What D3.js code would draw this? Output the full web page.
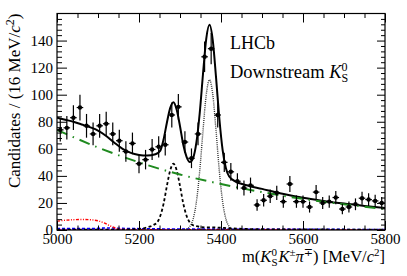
<!DOCTYPE html>
<html>
<head>
<meta charset="utf-8">
<script src="https://cdn.jsdelivr.net/npm/d3@7"></script>
<style>
  body { margin: 0; background: #fff; }
  text { font-family: "Liberation Serif", "DejaVu Serif", serif; fill: #000; }
</style>
</head>
<body>
<svg id="chart" width="407" height="276"></svg>
<script>
// binning of the mass histogram
const massRange = [5000, 5800];
const binWidth = 16;

// candidates per 16 MeV bin
const counts = [
  74, 75.5, 83, 90.5, 77, 71, 77, 78.5, 71, 66,
  58, 64, 49, 52, 59.5, 61.5, 63, 85, 91, 65,
  53, 71, 128, 134, 85, 50, 43, 36, 31, 33,
  18.5, 22, 25, 27.5, 21, 34, 21, 21, 17, 28,
  20, 21, 24, 15.5, 17, 19, 23.5, 22.5, 21.5, 20
];

// fit curves, sampled as [mass, value]
const totalFit = [
  [5000, 83], [5020, 81.5], [5040, 80], [5060, 78], [5080, 76], [5100, 73.5],
  [5120, 69.5], [5140, 64.5], [5160, 60], [5180, 57], [5200, 55.5], [5220, 55],
  [5240, 56], [5252, 58.7], [5260, 67], [5268, 79.3], [5276, 90.1], [5284, 94.5],
  [5292, 88.8], [5300, 76.7], [5308, 63], [5316, 54.1], [5324, 50.3], [5332, 53.2],
  [5340, 64.7], [5348, 86.1], [5356, 114.9], [5364, 141.3], [5372, 151.6], [5380, 140],
  [5388, 112.4], [5396, 82.2], [5404, 59], [5412, 45.6], [5420, 39.5], [5436, 35.8],
  [5460, 33.3], [5500, 30.4], [5550, 26.8], [5600, 23.8], [5650, 21.5], [5700, 19.5],
  [5750, 17.8], [5800, 16.2]
];
const combinatorial = [
  [5000, 74], [5100, 61], [5200, 50], [5300, 41], [5400, 34],
  [5500, 28], [5600, 23], [5700, 19], [5800, 15.5]
];
const bsSignal = [
  [5280, 0], [5300, 0], [5308, 0.15], [5316, 0.7], [5324, 2.6], [5332, 8.1],
  [5340, 20.8], [5348, 43.3], [5356, 73], [5364, 100], [5372, 111], [5380, 100],
  [5388, 73], [5396, 43.3], [5404, 20.8], [5412, 8.1], [5420, 2.6], [5428, 0.7],
  [5436, 0.15], [5444, 0], [5470, 0]
];
const bdSignal = [
  [5000, 0.3], [5150, 0.3], [5200, 0.8], [5220, 2], [5228, 2.7], [5236, 3.8],
  [5244, 5.5], [5252, 10.5], [5260, 19.5], [5268, 32.5], [5276, 44], [5284, 49],
  [5292, 44], [5300, 32.5], [5308, 19.5], [5316, 10.5], [5324, 5.5], [5332, 3.5],
  [5340, 2.8], [5360, 2], [5390, 1.8], [5420, 1.3], [5460, 0.8], [5520, 0.5],
  [5600, 0.4], [5800, 0.3]
];
const partReco = [
  [5000, 6.5], [5020, 7.2], [5040, 7.6], [5060, 7.8], [5080, 7.6], [5100, 6.8],
  [5115, 5.2], [5130, 3], [5145, 1.2], [5160, 0.4], [5200, 0.2], [5800, 0.1]
];
const crossFeed = [
  [5000, 1], [5080, 1], [5120, 1.5], [5160, 1.2], [5250, 0.8], [5400, 0.6], [5800, 0.4]
];
const otherBkg = [[5000, 0.5], [5400, 0.4], [5800, 0.3]];

const yMax = 160;
const yMajor = [0, 20, 40, 60, 80, 100, 120, 140];
const xMajor = [5000, 5200, 5400, 5600, 5800];

const svg = d3.select("#chart");
const margin = { top: 13.5, right: 22, bottom: 46, left: 57 };
const width = 407 - margin.left - margin.right;
const height = 276 - margin.top - margin.bottom;

const g = svg.append("g").attr("transform", `translate(${margin.left},${margin.top})`);

const x = d3.scaleLinear().domain(massRange).range([0, width]);
const y = d3.scaleLinear().domain([0, yMax]).range([height, 0]);

g.append("clipPath").attr("id", "clip")
  .append("rect").attr("width", width).attr("height", height);

const plot = g.append("g").attr("clip-path", "url(#clip)");

const line = d3.line()
  .x((d) => x(d[0]))
  .y((d) => y(d[1]))
  .curve(d3.curveMonotoneX);

function drawCurve(data, color, w, dash) {
  plot.append("path")
    .datum(data)
    .attr("fill", "none")
    .attr("stroke", color)
    .attr("stroke-width", w)
    .attr("stroke-dasharray", dash)
    .attr("d", line);
}

drawCurve(otherBkg, "#ff00ff", 1.3, "1.5,1.5");
drawCurve(crossFeed, "#0000ff", 1.6, "3,2");
drawCurve(partReco, "#ff0000", 1.4, "3,1.5,1,1.5,1,1.5");
drawCurve(bsSignal, "#333", 1.4, "1,1.1");
drawCurve(bdSignal, "#000", 1.8, "3,2.4");
drawCurve(totalFit, "#000", 2, null);
drawCurve(combinatorial, "#1f8a1f", 2, "11,6,1.5,6");

// data points with poisson errors
const bins = counts.map((c, i) => ({
  lo: massRange[0] + i * binWidth,
  mid: massRange[0] + (i + 0.5) * binWidth,
  hi: massRange[0] + (i + 1) * binWidth,
  n: c
}));

const pts = g.append("g").attr("stroke", "#000").attr("stroke-width", 1.2);
pts.selectAll(".ey")
  .data(bins)
  .enter()
  .append("line")
  .attr("x1", (d) => x(d.mid))
  .attr("x2", (d) => x(d.mid))
  .attr("y1", (d) => y(d.n - Math.sqrt(d.n)))
  .attr("y2", (d) => y(d.n + Math.sqrt(d.n)));
pts.selectAll(".ex")
  .data(bins)
  .enter()
  .append("line")
  .attr("x1", (d) => x(d.lo))
  .attr("x2", (d) => x(d.hi))
  .attr("y1", (d) => y(d.n))
  .attr("y2", (d) => y(d.n));
g.append("g")
  .selectAll("circle")
  .data(bins)
  .enter()
  .append("circle")
  .attr("cx", (d) => x(d.mid))
  .attr("cy", (d) => y(d.n))
  .attr("r", 2.2)
  .attr("fill", "#000");

// axes, ticks pointing inwards on all four sides
const xMinor = d3.range(massRange[0], massRange[1] + 1, 50).filter((v) => !xMajor.includes(v));
const yMinor = d3.range(0, yMax + 1, 4).filter((v) => !yMajor.includes(v) && v !== 160);

function styleAxis(sel) {
  sel.select(".domain").remove();
  sel.selectAll("line").attr("stroke", "#000").attr("stroke-width", 1);
  sel.selectAll("text").style("font-size", "15px").style("font-family", "Liberation Serif");
}

g.append("g").attr("transform", `translate(0,${height})`)
  .call(d3.axisBottom(x).tickValues(xMajor).tickSize(-9).tickPadding(3).tickFormat(d3.format("d")))
  .call(styleAxis);
g.append("g").attr("transform", `translate(0,${height})`)
  .call(d3.axisBottom(x).tickValues(xMinor).tickSize(-4.5).tickFormat(""))
  .call(styleAxis);
g.append("g")
  .call(d3.axisTop(x).tickValues(xMajor).tickSize(-9).tickFormat(""))
  .call(styleAxis);
g.append("g")
  .call(d3.axisTop(x).tickValues(xMinor).tickSize(-4.5).tickFormat(""))
  .call(styleAxis);

g.append("g")
  .call(d3.axisLeft(y).tickValues(yMajor).tickSize(-10).tickPadding(4))
  .call(styleAxis);
g.append("g")
  .call(d3.axisLeft(y).tickValues(yMinor).tickSize(-5).tickFormat(""))
  .call(styleAxis);
g.append("g").attr("transform", `translate(${width},0)`)
  .call(d3.axisRight(y).tickValues(yMajor).tickSize(-8).tickFormat(""))
  .call(styleAxis);
g.append("g").attr("transform", `translate(${width},0)`)
  .call(d3.axisRight(y).tickValues(yMinor).tickSize(-4).tickFormat(""))
  .call(styleAxis);

g.append("rect")
  .attr("width", width)
  .attr("height", height)
  .attr("fill", "none")
  .attr("stroke", "#000")
  .attr("stroke-width", 1.2);

// x-axis label
const xl = svg.append("text")
  .attr("x", margin.left + width)
  .attr("y", 262)
  .attr("text-anchor", "end")
  .style("font-size", "16.5px");
xl.append("tspan").text("m(");
xl.append("tspan").style("font-style", "italic").text("K");
xl.append("tspan").attr("dy", -6).style("font-size", "11px").text("0");
xl.append("tspan").attr("dx", -5.5).attr("dy", 10).style("font-size", "11px").text("S");
xl.append("tspan").attr("dx", 1).attr("dy", -4).style("font-style", "italic").text("K");
xl.append("tspan").attr("dy", -6).style("font-size", "11px").text("±");
xl.append("tspan").attr("dy", 6).style("font-style", "italic").text("π");
xl.append("tspan").attr("dy", -6).style("font-size", "11px").text("∓");
xl.append("tspan").attr("dy", 6).text(") [MeV/");
xl.append("tspan").style("font-style", "italic").text("c");
xl.append("tspan").attr("dy", -6).style("font-size", "11px").text("2");
xl.append("tspan").attr("dy", 6).text("]");

// y-axis label
const yl = svg.append("text")
  .attr("transform", "rotate(-90)")
  .attr("x", -margin.top)
  .attr("y", 20)
  .attr("text-anchor", "end")
  .style("font-size", "17px");
yl.append("tspan").text("Candidates / (16 MeV/");
yl.append("tspan").style("font-style", "italic").text("c");
yl.append("tspan").attr("dy", -6).style("font-size", "12px").text("2");
yl.append("tspan").attr("dy", 6).text(")");

// legend text
svg.append("text")
  .attr("x", 230)
  .attr("y", 49)
  .style("font-size", "18px")
  .text("LHCb");
const ds = svg.append("text")
  .attr("x", 230)
  .attr("y", 78)
  .style("font-size", "18.5px");
ds.append("tspan").text("Downstream ");
ds.append("tspan").style("font-style", "italic").text("K");
ds.append("tspan").attr("dy", -7).style("font-size", "12px").text("0");
ds.append("tspan").attr("dx", -6).attr("dy", 11).style("font-size", "12px").text("S");
</script>
</body>
</html>
